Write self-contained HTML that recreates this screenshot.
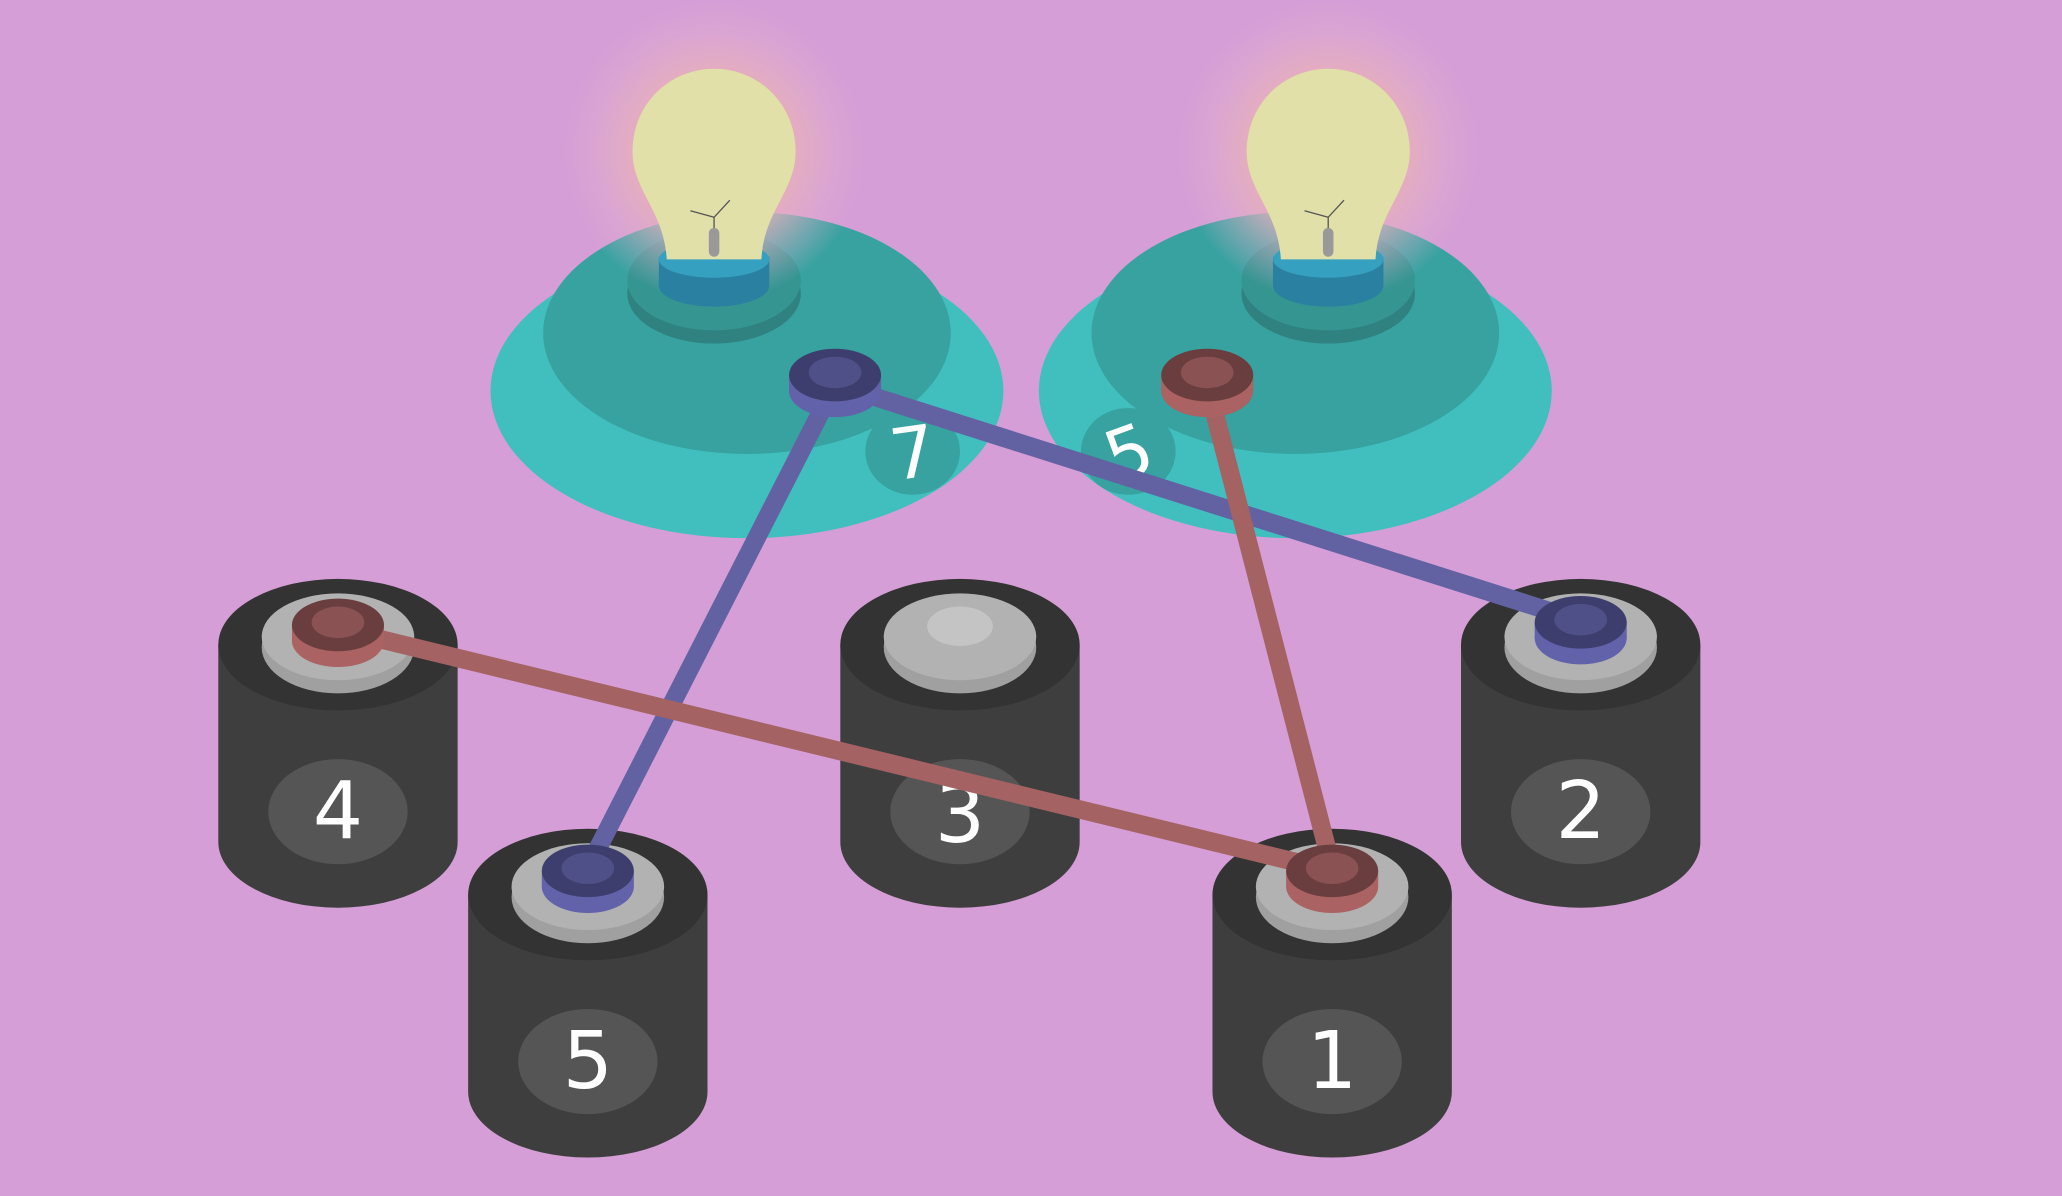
<!DOCTYPE html>
<html><head><meta charset="utf-8"><style>html,body{margin:0;padding:0;background:#d59ed6;overflow:hidden}svg{display:block}</style></head>
<body>
<svg width="2062" height="1196" viewBox="0 0 1568 909" xmlns="http://www.w3.org/2000/svg" font-family="'DejaVu Sans','Liberation Sans',sans-serif">
<defs>
<radialGradient id="glow"><stop offset="0.5" stop-color="#e8b0b8" stop-opacity="0.9"/><stop offset="1" stop-color="#e0b0d8" stop-opacity="0"/></radialGradient>
<g id="base1">
<ellipse cx="25" cy="182" rx="195" ry="112" fill="#41bfbf"/>
<ellipse cx="25" cy="138" rx="155" ry="92" fill="#37a2a0"/>
</g>
<g id="base2">
<ellipse cx="-25" cy="182" rx="195" ry="112" fill="#41bfbf"/>
<ellipse cx="-25" cy="138" rx="155" ry="92" fill="#37a2a0"/>
</g>
<g id="bulb">
<ellipse cx="0" cy="108" rx="66" ry="38" fill="#2f8280"/>
<ellipse cx="0" cy="98" rx="66" ry="38" fill="#349591"/>
<circle cx="0" cy="0" r="115" fill="url(#glow)"/>
<rect x="-42" y="80" width="84" height="22" fill="#2a80a0"/>
<ellipse cx="0" cy="102" rx="42" ry="16" fill="#2a80a0"/>
<ellipse cx="0" cy="82" rx="42" ry="14" fill="#35a0c0"/>
<path d="M-36 82 C-38 45 -62 30 -62 0 C-62 -36 -34 -63 0 -63 C34 -63 62 -36 62 0 C62 30 38 45 36 82 Z" fill="#e0e0a8"/>
<path d="M-18 45 L0 50 L12 37 M0 50 L0 60" stroke="#555" stroke-width="1" fill="none"/>
<rect x="-4" y="58" width="8" height="22" rx="4" fill="#999"/>
</g>
<g id="batt">
<path d="M-91 50 L-91 200 A91 50 0 0 0 91 200 L91 50 Z" fill="#3e3e3e"/>
<ellipse cx="0" cy="50" rx="91" ry="50" fill="#333"/>
<ellipse cx="0" cy="52" rx="58" ry="35" fill="#a0a0a0"/>
<ellipse cx="0" cy="44" rx="58" ry="33" fill="#b2b2b2"/>
<ellipse cx="0" cy="177" rx="53" ry="40" fill="#555"/>
</g>
<g id="tb"><ellipse cx="0" cy="12" rx="35" ry="20" fill="#6262aa"/><rect x="-35" y="0" width="70" height="12" fill="#6262aa"/><ellipse cx="0" cy="0" rx="35" ry="20" fill="#3e3e6e"/><ellipse cx="0" cy="-2" rx="20" ry="12" fill="#505088"/></g>
<g id="tr"><ellipse cx="0" cy="12" rx="35" ry="20" fill="#aa6262"/><rect x="-35" y="0" width="70" height="12" fill="#aa6262"/><ellipse cx="0" cy="0" rx="35" ry="20" fill="#6a3e3e"/><ellipse cx="0" cy="-2" rx="20" ry="12" fill="#8a5252"/></g>
</defs>
<use href="#base1" x="543" y="115"/>
<use href="#bulb" x="543" y="115"/>
<use href="#base2" x="1010" y="115"/>
<use href="#bulb" x="1010" y="115"/>
<ellipse cx="694" cy="343" rx="36" ry="33" fill="#37a2a0"/>
<text x="694" y="363" font-size="54" fill="#fff" text-anchor="middle" transform="rotate(-8 694 343)">7</text>
<ellipse cx="858" cy="343" rx="36" ry="33" fill="#37a2a0"/>
<text x="858" y="363" font-size="54" fill="#fff" text-anchor="middle" transform="rotate(-20 858 343)">5</text>
<use href="#batt" x="257" y="440"/>
<use href="#batt" x="730" y="440"/>
<use href="#batt" x="1202" y="440"/>
<ellipse cx="730" cy="476" rx="25" ry="15" fill="#c4c4c4"/>
<text x="257" y="637" font-size="60" fill="#fff" text-anchor="middle">4</text>
<text x="730" y="640" font-size="60" fill="#fff" text-anchor="middle">3</text>
<text x="1202" y="637" font-size="60" fill="#fff" text-anchor="middle">2</text>
<use href="#batt" x="447" y="630"/>
<use href="#batt" x="1013" y="630"/>
<text x="447" y="827" font-size="60" fill="#fff" text-anchor="middle">5</text>
<text x="1013" y="827" font-size="60" fill="#fff" text-anchor="middle">1</text>
<g stroke-width="14" stroke-linecap="round">
<line x1="635" y1="292" x2="447" y2="660" stroke="#6262a2"/>
<line x1="635" y1="292" x2="1202" y2="472" stroke="#6262a2"/>
<line x1="257" y1="478" x2="1013" y2="662" stroke="#a46262"/>
<line x1="918" y1="292" x2="1013" y2="660" stroke="#a46262"/>
</g>
<use href="#tb" x="635" y="285"/>
<use href="#tr" x="918" y="285"/>
<use href="#tr" x="257" y="475"/>
<use href="#tb" x="1202" y="473"/>
<use href="#tb" x="447" y="662"/>
<use href="#tr" x="1013" y="662"/>
</svg>
</body></html>
